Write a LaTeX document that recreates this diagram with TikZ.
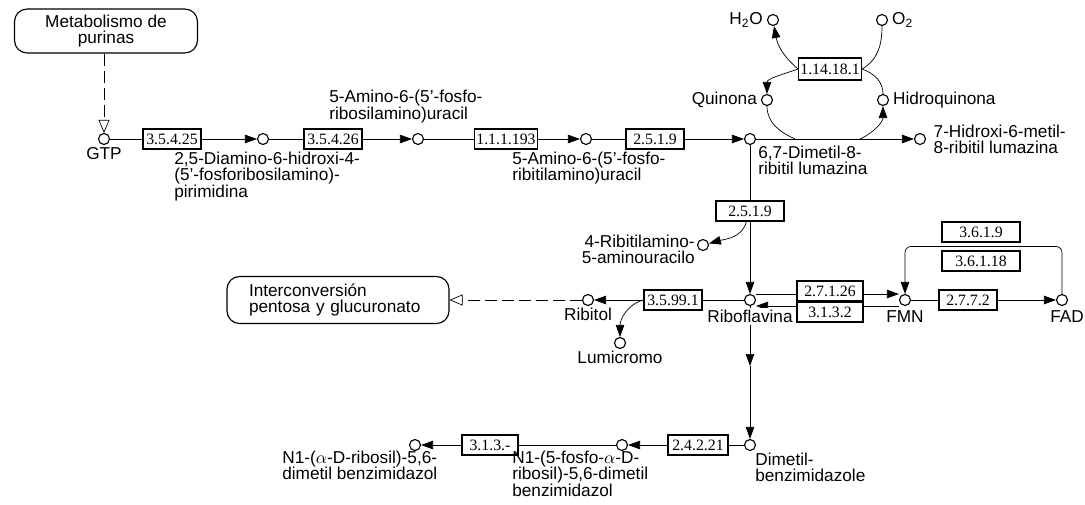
\documentclass[tikz,border=0pt]{standalone}
\usepackage{fontspec}
\setmainfont{Liberation Serif}
\setsansfont{Liberation Sans}
\usetikzlibrary{positioning, arrows.meta, backgrounds, calc}

\begin{document}
\begin{tikzpicture}[
		x=0.02cm, y=-0.02cm,
		font=\sffamily\fontsize{9.8}{9.2}\selectfont,
		line width=0.65pt,
		% Style for the compounds
		cpd/.style={circle, draw, fill=white, minimum size=0.22cm, inner sep=0pt},
		% Style for the enzyme boxes
		ec/.style={draw, fill=white, minimum width=1.16cm, minimum height=0.4cm, inner sep=1pt,
			font=\rmfamily\fontsize{9}{9}\selectfont},
		% Linked pathway maps
		mapbox/.style={draw, fill=white, rounded corners=0.25cm},
		% Compound names
		lbl/.style={inner sep=1pt, align=left},
		% Arrows
		arr/.style={-{Triangle[length=2.4mm, width=1.7mm]}},
		maparr/.style={dash pattern=on 0.24cm off 0.1cm, -{Triangle[open, length=2.6mm, width=2.2mm]}}
		]
		\useasboundingbox (0,0) rectangle (1085,504);
		
		% Linked maps
		\node[mapbox, minimum width=3.66cm, minimum height=0.78cm, align=center] (purinas) at (106,31) {Metabolismo de\\purinas};
		\node[mapbox, minimum height=0.94cm, inner xsep=0.44cm, text width=3.56cm, align=left] (pentosa) at (338,300) {Interconversión\\pentosa y glucuronato};
		
		% GTP to lumazine
		\node[cpd] (gtp) at (104,139) {};
		\node[ec] (e35425) at (172,139) {3.5.4.25};
		\node[cpd] (c1) at (263,139) {};
		\node[ec] (e35426) at (333,139) {3.5.4.26};
		\node[cpd] (c2) at (418,139) {};
		\node[ec] (e111193) at (506,139) {1.1.1.193};
		\node[cpd] (c3) at (586,139) {};
		\node[ec] (e2519) at (655,139) {2.5.1.9};
		\node[cpd] (dmrl) at (750,139) {};
		\node[cpd] (hmrl) at (920,139) {};
		
		\node[lbl, below=0pt of gtp] (gtp-l) {GTP};
		\node[lbl, anchor=north west] (c1-l) at (172,150) {2,5-Diamino-6-hidroxi-4-\\(5'-fosforibosilamino)-\\pirimidina};
		\node[lbl, anchor=south west] (c2-l) at (327,125) {5-Amino-6-(5'-fosfo-\\ribosilamino)uracil};
		\node[lbl, anchor=north west] (c3-l) at (510,150) {5-Amino-6-(5'-fosfo-\\ribitilamino)uracil};
		\node[lbl, anchor=north west] (dmrl-l) at (756,144) {6,7-Dimetil-8-\\ribitil lumazina};
		\node[lbl, right=3pt of hmrl] (hmrl-l) {7-Hidroxi-6-metil-\\8-ribitil lumazina};
		
		% Quinone cycle
		\node[ec, minimum width=1.2cm, minimum height=0.44cm] (e114) at (830,69) {1.14.18.1};
		\node[cpd] (quin) at (767,100) {};
		\node[cpd] (hquin) at (883,100) {};
		\node[cpd] (h2o) at (773,20) {};
		\node[cpd] (o2) at (882,20) {};
		\coordinate (lb) at (795,139);
		\coordinate (rb) at (860,139);
		\node[lbl, left=1pt of quin] (quin-l) {Quinona};
		\node[lbl, right=1pt of hquin] (hquin-l) {Hidroquinona};
		\node[lbl, left=1pt of h2o] (h2o-l) {H\textsubscript{2}O};
		\node[lbl, right=1pt of o2] (o2-l) {O\textsubscript{2}};
		
		% Riboflavin
		\node[ec, minimum width=1.36cm] (e2519b) at (750,211) {2.5.1.9};
		\node[cpd] (rib4) at (703,245) {};
		\node[cpd] (ribo) at (750,300) {};
		\node[ec] (e35991) at (673,300) {3.5.99.1};
		\node[cpd] (ribitol) at (588,300) {};
		\node[cpd] (lumi) at (620,343) {};
		\node[lbl, align=right, anchor=east] (rib4-l) at (697,249) {4-Ribitilamino-\\5-aminouracilo};
		\node[lbl, fill=white, below=1pt of ribo] (ribo-l) {Riboflavina};
		\node[lbl, below=0pt of ribitol] (ribitol-l) {Ribitol};
		\node[lbl, below=0pt of lumi] (lumi-l) {Lumicromo};
		
		% FMN and FAD
		\node[ec, minimum width=1.32cm] (e27126) at (830,291) {2.7.1.26};
		\node[ec, minimum width=1.32cm] (e3132) at (830,312) {3.1.3.2};
		\node[cpd] (fmn) at (905,300) {};
		\node[ec] (e2772) at (968,300) {2.7.7.2};
		\node[cpd] (fad) at (1062,300) {};
		\node[ec, minimum width=1.56cm] (e3619) at (981,232) {3.6.1.9};
		\node[ec, minimum width=1.56cm] (e36118) at (981,261) {3.6.1.18};
		\node[lbl, below=1pt of fmn] (fmn-l) {FMN};
		\node[lbl, below=1pt of fad, xshift=0.1cm] (fad-l) {FAD};
		
		% Benzimidazole
		\coordinate (mid) at (750,366);
		\node[cpd] (dmb) at (750,445) {};
		\node[ec, minimum width=1.2cm] (e24221) at (698,445) {2.4.2.21};
		\node[cpd] (n1p) at (622,445) {};
		\node[ec, minimum width=1.12cm] (e313) at (490,445) {3.1.3.-};
		\node[cpd] (n1r) at (415,445) {};
		\node[lbl, anchor=north west] (dmb-l) at (753,451) {Dimetil-\\benzimidazole};
		\node[lbl, anchor=north west] (n1p-l) at (510,449) {N1-(5-fosfo-$\alpha$-D-\\ribosil)-5,6-dimetil\\benzimidazol};
		\node[lbl, anchor=north west] (n1r-l) at (280,449) {N1-($\alpha$-D-ribosil)-5,6-\\dimetil benzimidazol};
		
		% Connectors behind the nodes
		\begin{scope}[on background layer]
			\draw[maparr] (purinas.south -| gtp) -- (gtp);
			\draw (gtp) -- (e35425);
			\draw[arr] (e35425) -- (c1);
			\draw (c1) -- (e35426);
			\draw[arr] (e35426) -- (c2);
			\draw (c2) -- (e111193);
			\draw[arr] (e111193) -- (c3);
			\draw (c3) -- (e2519);
			\draw[arr] (e2519) -- (dmrl);
			\draw[arr] (dmrl) -- (hmrl);
			
			\draw[arr] (e114.west) to[out=200, in=90] (quin);
			\draw (quin) to[out=-90, in=155] (lb);
			\draw[arr] (rb) to[out=25, in=-90] (hquin);
			\draw (hquin) to[out=90, in=-20] (e114.east);
			\draw[arr] (e114.west) to[out=140, in=-80] (h2o);
			\draw (o2) to[out=-90, in=30] (e114.east);
			
			\draw (dmrl) -- (e2519b);
			\draw[arr] (e2519b) -- (ribo);
			\draw[arr] ([xshift=-2pt]e2519b.south) to[out=-105, in=15] (rib4);
			\draw (ribo) -- (e35991);
			\draw[arr] (e35991) -- (ribitol);
			\draw[arr] (e35991.west) to[out=195, in=90] (lumi);
			\draw[maparr] (ribitol) -- (pentosa);
			
			\draw[arr] ([yshift=3.4pt]ribo.east) -- ([yshift=3.4pt]ribo.east -| fmn.west);
			\draw[arr] ([yshift=-3.4pt]fmn.west) -- ([yshift=-3.4pt]ribo.east);
			\draw (fmn) -- (e2772);
			\draw[arr] (e2772) -- (fad);
			\coordinate (loop) at ($(e3619.south)!0.5!(e36118.north)$);
			\draw[arr, rounded corners=0.12cm] (fad.north) |- (loop) -| (fmn.north);
			
			\draw[arr] (ribo) -- (mid);
			\draw[arr] (mid) -- (dmb);
			\draw (dmb) -- (e24221);
			\draw[arr] (e24221) -- (n1p);
			\draw (n1p) -- (e313);
			\draw[arr] (e313) -- (n1r);
		\end{scope}
	\end{tikzpicture}
\end{document}
